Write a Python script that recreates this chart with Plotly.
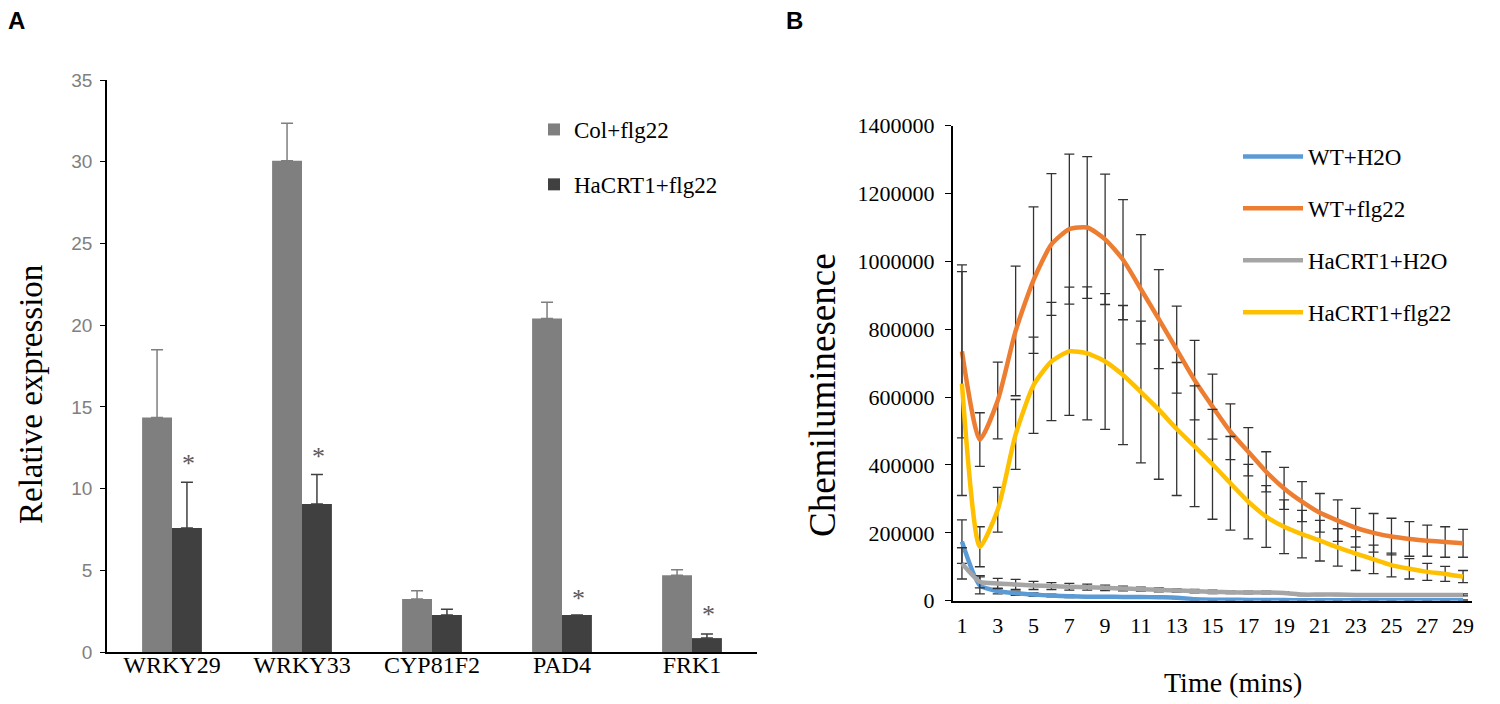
import plotly.graph_objects as go

# ---- panel A data (relative expression) ----
genes = ['WRKY29', 'WRKY33', 'CYP81F2', 'PAD4', 'FRK1']
col_flg22 = [14.35, 30.06, 3.25, 20.4, 4.69]
col_flg22_err = [4.15, 2.3, 0.5, 1.0, 0.35]
hacrt_flg22_bar = [7.58, 9.06, 2.26, 2.26, 0.85]
hacrt_flg22_bar_err = [2.8, 1.8, 0.35, 0.0, 0.25]
star_genes = ['WRKY29', 'WRKY33', 'PAD4', 'FRK1']
star_y = [11.9, 12.36, 3.63, 2.67]

# ---- panel B data (chemiluminescence over time) ----
minutes = list(range(1, 30))
wt_h2o = [174000, 45000, 28000, 22000, 18000, 15000, 13000, 12000, 12000, 11000,
          11000, 10000, 9000, 4000, 3000, 3000, 2000, 2000, 2000, 1000,
          1000, 1000, 1000, 1000, 1000, 1000, 1000, 1000, 1000]
wt_h2o_err = [64000, 25000, 8000, 6000, 5000, 4000, 4000, 3000, 3000, 3000,
              3000, 3000, 3000, 2000, 2000, 2000, 2000, 2000, 2000, 1000,
              1000, 1000, 1000, 1000, 1000, 1000, 1000, 1000, 1000]
wt_flg22 = [735000, 475000, 590000, 795000, 945000, 1050000, 1095000, 1100000, 1065000, 1005000,
            918000, 830000, 740000, 650000, 572000, 498000, 439000, 380000, 331000, 292000,
            259000, 236000, 215000, 200000, 189000, 182000, 177000, 173000, 169000]
wt_flg22_err = [255000, 79000, 113000, 191000, 216000, 209000, 221000, 209000, 192000, 177000,
                161000, 146000, 128000, 117000, 96000, 82000, 71000, 59000, 62000, 59000,
                57000, 61000, 57000, 57000, 54000, 51000, 46000, 45000, 41000]
hacrt_h2o = [110000, 56000, 51000, 48000, 45000, 43000, 41000, 40000, 38000, 36000,
             34000, 32000, 30000, 28000, 26000, 25000, 24000, 24000, 23000, 18000,
             18000, 18000, 17000, 17000, 17000, 17000, 17000, 17000, 17000]
hacrt_h2o_err = [46000, 18000, 15000, 15000, 12000, 10000, 10000, 9000, 8000, 7000,
                 6000, 6000, 5000, 5000, 5000, 4000, 4000, 4000, 4000, 3000,
                 3000, 3000, 3000, 3000, 3000, 3000, 3000, 3000, 3000]
hacrt_flg22 = [640000, 159000, 268000, 490000, 635000, 705000, 735000, 729000, 705000, 665000,
               615000, 563000, 506000, 455000, 402000, 346000, 292000, 248000, 218000, 196000,
               177000, 157000, 139000, 122000, 105000, 94000, 85000, 79000, 71000]
hacrt_flg22_err = [330000, 59000, 66000, 103000, 142000, 174000, 189000, 196000, 200000, 205000,
                   209000, 205000, 196000, 178000, 162000, 138000, 110000, 91000, 79000, 70000,
                   60000, 55000, 50000, 42000, 35000, 30000, 25000, 22000, 18000]
odd_minutes = [m for m in minutes if m % 2 == 1]

W, H = 1500, 704
PAGE_PAD = 8  # the html body margin shifts the figure by this much
SERIF = 'Liberation Serif'


def px(x):
    # screen x (pixels) -> paper fraction
    return (x - PAGE_PAD) / W


def py(y):
    # screen y (pixels, from top) -> paper fraction
    return 1 - (y - PAGE_PAD) / H


fig = go.Figure()

# panel A bars
fig.add_trace(go.Bar(x=genes, y=col_flg22, name='Col+flg22', marker_color='#7f7f7f', marker_line_width=0,
                     error_y=dict(type='data', symmetric=False, array=col_flg22_err,
                                  arrayminus=[0] * len(genes), color='#7f7f7f', thickness=1.5, width=6),
                     legendgroup='a1', xaxis='x', yaxis='y', legend='legend'))
fig.add_trace(go.Bar(x=genes, y=hacrt_flg22_bar, name='HaCRT1+flg22', marker_color='#404040', marker_line_width=0,
                     error_y=dict(type='data', symmetric=False, array=hacrt_flg22_bar_err,
                                  arrayminus=[0] * len(genes), color='#404040', thickness=1.5, width=6),
                     legendgroup='a2', xaxis='x', yaxis='y', legend='legend'))

# panel B lines
series = [
    ('WT+H2O', wt_h2o, wt_h2o_err, '#5b9bd5'),
    ('WT+flg22', wt_flg22, wt_flg22_err, '#ed7d31'),
    ('HaCRT1+H2O', hacrt_h2o, hacrt_h2o_err, '#a5a5a5'),
    ('HaCRT1+flg22', hacrt_flg22, hacrt_flg22_err, '#ffc000'),
]
for i, (name, vals, errs, color) in enumerate(series):
    fig.add_trace(go.Scatter(x=minutes, y=vals, name=name, mode='lines',
                             line=dict(color=color, width=4.5, shape='spline', smoothing=0.6),
                             error_y=dict(type='data', array=errs, color='#333333', thickness=1.3, width=5),
                             legendgroup='b%d' % i, xaxis='x2', yaxis='y2', legend='legend2'))

# asterisks over the HaCRT1 bars
for g, yv in zip(star_genes, star_y):
    fig.add_annotation(x=g, y=yv, xref='x', yref='y', text='*', showarrow=False,
                       xshift=16, yshift=-6, font=dict(family=SERIF, size=26, color='#595959'))

# axis titles and panel letters
labels = [
    ('Relative expression', 31, 395, -90, SERIF, 33),
    ('Chemiluminesence', 822, 395, -90, SERIF, 37),
    ('Time (mins)', 1233, 682, 0, SERIF, 28),
    ('<b>A</b>', 16, 21, 0, 'Liberation Sans', 24),
    ('<b>B</b>', 795, 21, 0, 'Liberation Sans', 24),
]
for text, lx, ly, ang, fam, size in labels:
    fig.add_annotation(x=px(lx), y=py(ly), xref='paper', yref='paper', text=text, textangle=ang,
                       xanchor='center', yanchor='middle', showarrow=False,
                       font=dict(family=fam, size=size, color='black'))

fig.update_layout(
    width=W, height=H,
    margin=dict(l=0, r=0, t=0, b=0, autoexpand=False),
    paper_bgcolor='white', plot_bgcolor='white',
    barmode='group', bargap=0.54, bargroupgap=0,
    xaxis=dict(domain=[px(107), px(757)], anchor='y', showline=True, linecolor='black', linewidth=1.5,
               ticks='', showgrid=False, automargin=False, ticklabelstandoff=-10,
               tickfont=dict(family=SERIF, size=24, color='black')),
    yaxis=dict(domain=[py(652), py(80)], anchor='x', range=[0, 35], dtick=5, showline=True,
               linecolor='black', linewidth=1.5, ticks='outside', ticklen=5, tickcolor='black',
               showgrid=False, zeroline=False, automargin=False, ticklabelstandoff=4,
               tickfont=dict(family='Liberation Sans', size=19, color='#808080')),
    xaxis2=dict(domain=[px(953), px(1472)], anchor='y2', range=[0.5, 29.5], tickvals=odd_minutes,
                showline=True, linecolor='black', linewidth=2, ticks='', showgrid=False,
                zeroline=False, automargin=False, ticklabelstandoff=4,
                tickfont=dict(family=SERIF, size=22, color='black')),
    yaxis2=dict(domain=[py(600.7), py(125.7)], anchor='x2', range=[0, 1400000], dtick=200000,
                tickformat='d', showline=True, linecolor='black', linewidth=2, ticks='outside',
                ticklen=6, tickcolor='black', showgrid=False, zeroline=False, automargin=False,
                ticklabelstandoff=6, tickfont=dict(family=SERIF, size=22, color='black')),
    legend=dict(x=px(534), y=py(108), xanchor='left', yanchor='top', bgcolor='rgba(0,0,0,0)',
                font=dict(family=SERIF, size=23, color='black'), tracegroupgap=22,
                traceorder='grouped'),
    legend2=dict(x=px(1238), y=py(135), xanchor='left', yanchor='top', bgcolor='rgba(0,0,0,0)',
                 font=dict(family=SERIF, size=23, color='black'), tracegroupgap=19,
                 traceorder='grouped', itemwidth=60),
)

fig.write_html("out.html")
